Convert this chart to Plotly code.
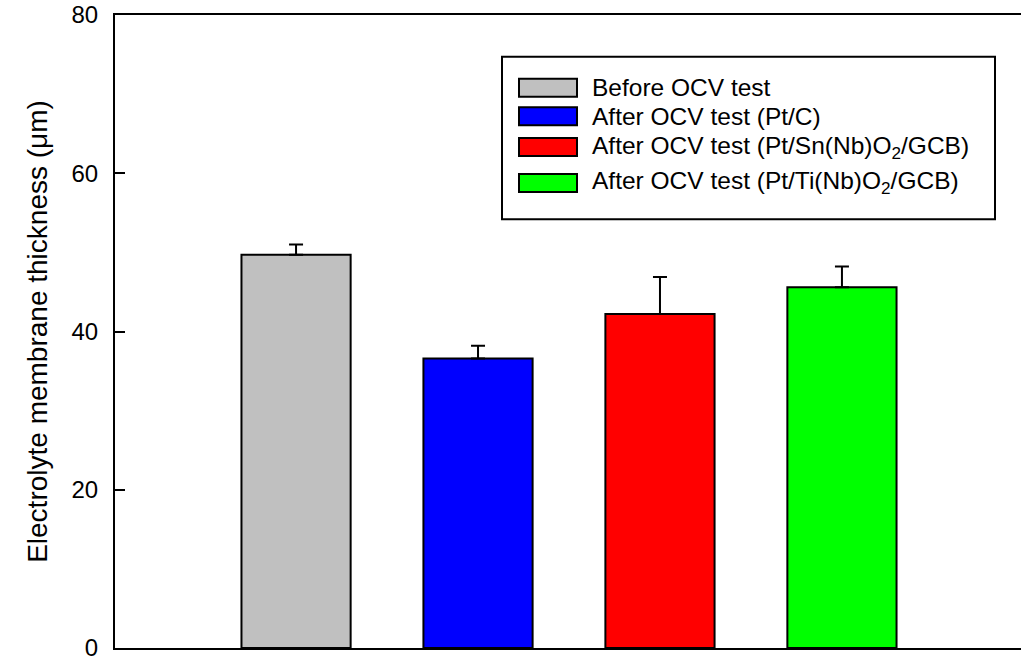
import plotly.graph_objects as go

# ---- data ----
categories = [0, 1, 2, 3]
names = [
    "Before OCV test",
    "After OCV test (Pt/C)",
    "After OCV test (Pt/Sn(Nb)O<sub>2</sub>/GCB)",
    "After OCV test (Pt/Ti(Nb)O<sub>2</sub>/GCB)",
]
values = [49.7, 36.6, 42.2, 45.6]
errors = [1.3, 1.6, 4.7, 2.6]
colors = ["#C0C0C0", "#0000FF", "#FF0000", "#00FF00"]
y_ticks = [0, 20, 40, 60, 80]

FONT = "Arial, Liberation Sans, Helvetica, sans-serif"

W, H = 1021, 661
L, R, T, B = 115, 0, 15, 11
PW = W - L - R
PH = H - T - B


def px_x(p):
    return (p - L) / PW


def px_y(p):
    return (H - B - p) / PH


fig = go.Figure()
for i in range(len(categories)):
    fig.add_trace(go.Bar(
        x=[categories[i]], y=[values[i]], width=0.6,
        marker=dict(color=colors[i], line=dict(color="black", width=2)),
        error_y=dict(type="data", array=[errors[i]], arrayminus=[0], symmetric=False,
                     color="black", thickness=2, width=7),
        showlegend=False, name=names[i],
    ))

# custom legend (box, swatches, labels)
shapes = [dict(type="rect", xref="paper", yref="paper",
               x0=px_x(502), x1=px_x(995), y0=px_y(220), y1=px_y(57),
               line=dict(color="black", width=2), fillcolor="white", layer="above")]
annotations = []
row_centers = [88, 116.5, 147.5, 183.5]
for i, nm in enumerate(names):
    yc = row_centers[i]
    shapes.append(dict(type="rect", xref="paper", yref="paper",
                       x0=px_x(519), x1=px_x(577), y0=px_y(yc + 9), y1=px_y(yc - 9),
                       line=dict(color="black", width=2), fillcolor=colors[i], layer="above"))
    annotations.append(dict(xref="paper", yref="paper", x=px_x(590), y=px_y(yc),
                            xanchor="left", yanchor="middle", showarrow=False,
                            text=nm, font=dict(family=FONT, size=24.5, color="black")))

fig.update_layout(
    width=W, height=H,
    margin=dict(l=L, r=R, t=T, b=B, pad=0),
    paper_bgcolor="white", plot_bgcolor="white",
    font=dict(family=FONT, color="black"),
    barmode="group",
    shapes=shapes, annotations=annotations,
    xaxis=dict(range=[-0.995, 3.984], showticklabels=False, ticks="", showgrid=False,
               zeroline=False, showline=True, linecolor="black", linewidth=2, mirror=True),
    yaxis=dict(range=[0, 80], tickvals=y_ticks, ticktext=[str(v) for v in y_ticks],
               ticks="inside", ticklen=10, tickwidth=2, tickcolor="black",
               tickfont=dict(family=FONT, size=24, color="black"), ticklabelstandoff=10,
               ticklabeloverflow="allow",
               showgrid=False, zeroline=False, showline=True, linecolor="black", linewidth=2,
               title=dict(text="Electrolyte membrane thickness (μm)",
                          font=dict(family=FONT, size=28, color="black"), standoff=16)),
)

fig.write_html("out.html", config={"displayModeBar": False},
               post_script="document.body.style.margin='0';document.body.style.overflow='hidden';")
